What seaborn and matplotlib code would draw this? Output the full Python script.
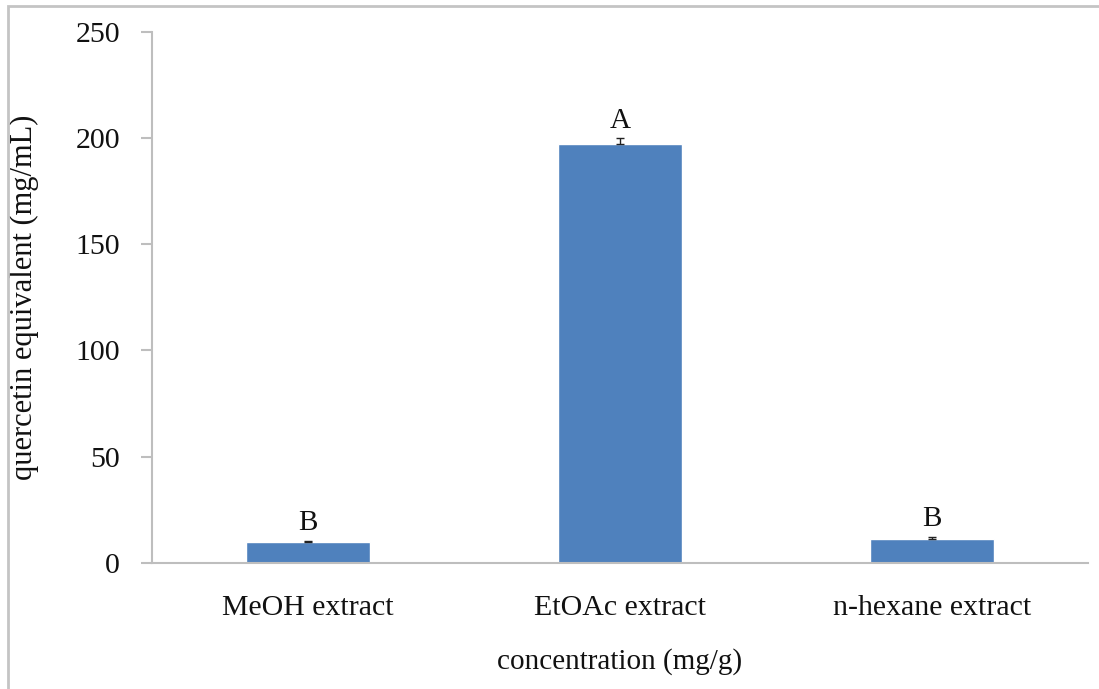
import matplotlib
matplotlib.use("Agg")
import matplotlib.pyplot as plt
from matplotlib.patches import Rectangle
import seaborn as sns
import pandas as pd

# Flavonoid content of the three extracts
extracts = ["MeOH extract", "EtOAc extract", "n-hexane extract"]
quercetin_eq = [9.9, 197.1, 11.3]
std_err = [0.5, 3.0, 1.0]
letters = ["B", "A", "B"]

sns.set_style("white")
plt.rcParams["font.family"] = ["Liberation Serif", "DejaVu Serif"]

df = pd.DataFrame({"extract": extracts, "value": quercetin_eq})

fig = plt.figure(figsize=(10.99, 6.89), dpi=100)
ax = fig.add_axes([152 / 1099, 1 - 562.7 / 689, (1088 - 152) / 1099, (562.7 - 32) / 689])

sns.barplot(data=df, x="extract", y="value", color="#4F81BD", saturation=1,
            width=0.4, errorbar=None, ax=ax, zorder=2)

positions = list(range(len(extracts)))
ax.errorbar(positions, quercetin_eq, yerr=[[0] * len(std_err), std_err],
            fmt="none", ecolor="#222222", elinewidth=1.0, capsize=3, capthick=1.0, zorder=3)

for x, v, e, lab in zip(positions, quercetin_eq, std_err, letters):
    ax.annotate(lab, (x, v + e), xytext=(0, 3), textcoords="offset points",
                ha="center", va="bottom", fontsize=21, color="#111111")

ax.set_ylim(0, 250)
ax.set_yticks([0, 50, 100, 150, 200, 250])
ax.set_xlim(-0.5, 2.5)
ax.set_xlabel("concentration (mg/g)", fontsize=21, color="#111111", labelpad=19)
ax.set_ylabel("quercetin equivalent (mg/mL)", fontsize=22, color="#111111", labelpad=26)

for side in ["top", "right"]:
    ax.spines[side].set_visible(False)
for side in ["left", "bottom"]:
    ax.spines[side].set_color("#BEBEBE")
    ax.spines[side].set_linewidth(1.5)

ax.tick_params(axis="y", which="both", left=True, length=8, width=1.5, color="#BEBEBE",
               labelsize=21.5, labelcolor="#111111", pad=15)
ax.tick_params(axis="x", which="both", bottom=False, labelsize=21.5, labelcolor="#111111", pad=20)

# Light frame around the whole figure
fig.patches.append(Rectangle((8 / 1099, -0.05), 1.2, 1 - 6 / 689 + 0.05,
                             transform=fig.transFigure, fill=False,
                             edgecolor="#C4C4C4", linewidth=2))

fig.savefig("out.png", dpi=100)
